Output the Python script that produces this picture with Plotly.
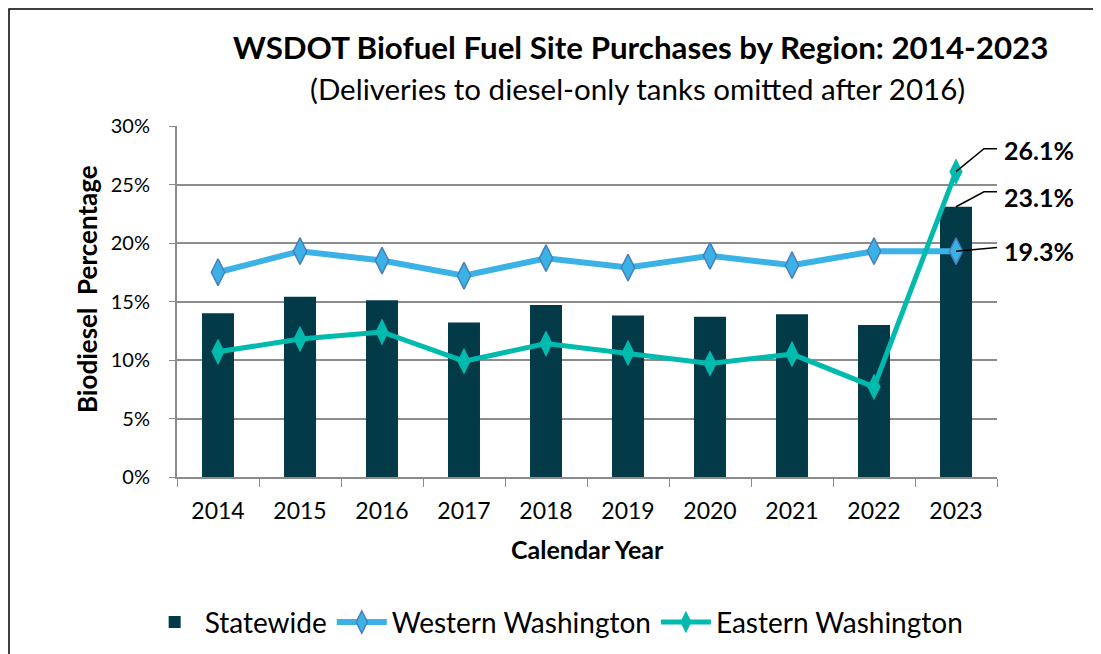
import plotly.graph_objects as go

years = ["2014", "2015", "2016", "2017", "2018", "2019", "2020", "2021", "2022", "2023"]
statewide = [14.0, 15.4, 15.1, 13.2, 14.7, 13.8, 13.7, 13.9, 13.0, 23.1]
western = [17.5, 19.3, 18.5, 17.2, 18.7, 17.9, 18.9, 18.1, 19.3, 19.3]
eastern = [10.7, 11.8, 12.4, 9.9, 11.4, 10.6, 9.7, 10.5, 7.7, 26.1]

FONT = "Lato"
Y_MAX = 30
W, H = 1093, 646
ML, MR, MT, MB = 169, 104, 118, 177
PW, PH = W - ML - MR, H - MT - MB
PX_X = PW / len(years)   # pixels per category
PX_Y = PH / Y_MAX        # pixels per percent

fig = go.Figure()
fig.add_trace(go.Bar(x=years, y=statewide, name="Statewide", marker_color="#023A48",
                     width=0.39, marker_line_width=0))
fig.add_trace(go.Scatter(x=years, y=western, name="Western Washington", mode="lines+markers",
                         line=dict(color="#3BB2E6", width=6),
                         marker=dict(symbol="diamond-tall", size=19, color="#3BB2E6",
                                     line=dict(color="#4A7EBB", width=1.5))))
fig.add_trace(go.Scatter(x=years, y=eastern, name="Eastern Washington", mode="lines+markers",
                         line=dict(color="#00BBAD", width=5),
                         marker=dict(symbol="diamond-tall", size=19, color="#00BBAD")))

# data labels for the last year with elbow leader lines (pixel offsets)
idx = len(years) - 1
labels = [(eastern[-1], [(0, 0), (28, 23), (44, 23)], 22),
          (statewide[-1], [(0, 0), (28, 15), (44, 15)], 10),
          (western[-1], [(0, 0), (44, 4)], 0)]
for val, pts, lshift in labels:
    path = "M " + " L ".join(f"{idx + px / PX_X},{val + py / PX_Y}" for px, py in pts)
    fig.add_shape(type="path", xref="x", yref="y", path=path,
                  line=dict(color="black", width=1.5))
    fig.add_annotation(x=idx, y=val, text=f"<b>{val:.1f}%</b>", showarrow=False,
                       xshift=83, yshift=lshift, xanchor="center", yanchor="middle",
                       font=dict(family=FONT, size=25, color="black"))

# outer border (page has an 8px offset)
fig.add_shape(type="rect", xref="paper", yref="paper",
              x0=-(ML - 1) / PW, x1=(W - ML - 0.5) / PW, y0=-(MB + 20) / PH, y1=(PH + MT - 1) / PH,
              line=dict(color="black", width=1.5), fillcolor="rgba(0,0,0,0)", layer="below")

fig.add_annotation(xref="paper", yref="paper", x=0.565, y=1.225, xanchor="center", yanchor="middle",
                   text="<b>WSDOT Biofuel Fuel Site Purchases by Region: 2014-2023</b>",
                   showarrow=False, font=dict(family=FONT, size=31.3, color="black"))
fig.add_annotation(xref="paper", yref="paper", x=0.562, y=1.108, xanchor="center", yanchor="middle",
                   text="(Deliveries to diesel-only tanks omitted after 2016)",
                   showarrow=False, font=dict(family=FONT, size=29.5, color="black"))
# axis titles
fig.add_annotation(xref="paper", yref="paper", x=0.5, y=-0.205, xanchor="center", yanchor="middle",
                   text="<b>Calendar Year</b>", showarrow=False,
                   font=dict(family=FONT, size=25, color="black"))
fig.add_annotation(xref="paper", yref="paper", x=-0.11, y=0.535, xanchor="center", yanchor="middle",
                   text="<b>Biodiesel  Percentage</b>", showarrow=False, textangle=-90,
                   font=dict(family=FONT, size=26, color="black"))

fig.update_layout(
    width=W, height=H,
    margin=dict(l=ML, r=MR, t=MT, b=MB, autoexpand=False),
    plot_bgcolor="white", paper_bgcolor="white",
    font=dict(family=FONT, size=20, color="black"),
    showlegend=True,
    legend=dict(orientation="h", x=0.463, xanchor="center", y=-0.414, yanchor="middle",
                font=dict(family=FONT, size=28), itemwidth=50),
    xaxis=dict(type="category", tickson="boundaries", ticks="outside", ticklen=8,
               tickcolor="#8c8c8c", showline=True, linecolor="#8c8c8c", linewidth=2,
               showgrid=False, tickangle=0, automargin=False, tickfont=dict(size=23),
               ticklabelstandoff=12, range=[-0.5, len(years) - 0.5]),
    yaxis=dict(range=[0, Y_MAX], dtick=5, ticksuffix="%", showgrid=True, gridcolor="#8c8c8c",
               gridwidth=2, showline=True, linecolor="#8c8c8c", linewidth=2, ticks="outside",
               ticklen=6, tickcolor="#8c8c8c", zeroline=False, automargin=False,
               tickfont=dict(size=20), ticklabelstandoff=15),
)

fig.write_html("out.html")
